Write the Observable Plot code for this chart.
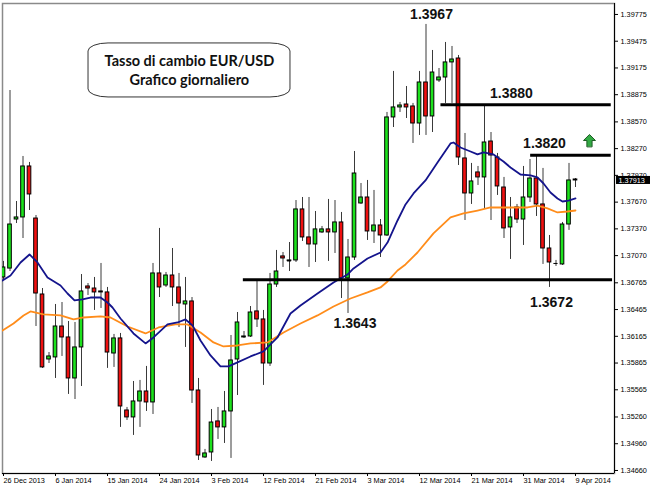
<!DOCTYPE html>
<html><head><meta charset="utf-8">
<script src="https://cdn.jsdelivr.net/npm/d3@7"></script>
<script src="https://cdn.jsdelivr.net/npm/@observablehq/plot@0.6"></script>
<style>html,body{margin:0;padding:0;background:#fff}svg{display:block}</style>
</head><body><div id="chart"></div>
<script>
// Daily EUR/USD candles, 26 Dec 2013 .. 9 Apr 2014 (index = bar number)
const openP = [
1.36825,1.36925,1.37475,1.37498,1.38070,1.37486,1.36634,1.35905,1.35928,1.36275,
1.36152,1.35692,1.36040,1.36724,1.36701,1.36668,1.36657,1.35972,1.36141,1.35333,
1.35255,1.35434,1.35546,1.35423,1.36870,1.36735,1.36847,1.36713,1.36522,1.36556,
1.35557,1.34806,1.34862,1.35210,1.35143,1.35322,1.35905,1.36152,1.36163,1.36444,
1.36354,1.35860,1.36746,1.37061,1.37010,1.37016,1.37588,1.37274,1.37195,1.37330,
1.37364,1.37330,1.37442,1.36814,1.37049,1.37655,1.37722,1.37341,1.37408,1.37296,
1.38620,1.38732,1.38765,1.38743,1.38552,1.39012,1.38631,1.39035,1.39068,1.39237,
1.39281,1.38160,1.37767,1.38003,1.37947,1.38350,1.38171,1.37834,1.37386,1.37610,
1.37475,1.37722,1.37935,1.37644,1.37150,1.36982,1.36971,1.37419,1.37924];
const highP = [
1.37005,1.38922,1.37677,1.38182,1.38115,1.37520,1.36701,1.35983,1.36522,1.36544,
1.36331,1.36320,1.36858,1.36757,1.36825,1.36982,1.36713,1.36186,1.36197,1.35367,
1.35658,1.35670,1.35827,1.36982,1.37375,1.36881,1.37150,1.36870,1.36825,1.36600,
1.35692,1.34896,1.35344,1.35367,1.35546,1.36174,1.36432,1.36219,1.36499,1.36802,
1.36455,1.36870,1.37128,1.37105,1.37217,1.37688,1.37722,1.37722,1.37565,1.37397,
1.37700,1.37688,1.37554,1.37251,1.38238,1.37879,1.37913,1.37801,1.37475,1.38676,
1.39136,1.38788,1.38967,1.38777,1.39136,1.39663,1.39371,1.39169,1.39461,1.39416,
1.39315,1.38440,1.38104,1.38070,1.38765,1.38451,1.38216,1.37947,1.37722,1.37644,
1.38070,1.38148,1.38182,1.38048,1.37296,1.37016,1.37442,1.38104,1.37935];
const lowP = [
1.36802,1.36892,1.37430,1.37262,1.37576,1.36275,1.35805,1.35860,1.35692,1.35939,
1.35513,1.35456,1.35602,1.36623,1.36455,1.36477,1.35805,1.35816,1.35143,1.35221,
1.35053,1.35143,1.35322,1.35288,1.36600,1.36713,1.36499,1.36264,1.36040,1.35412,
1.34772,1.34795,1.34761,1.35008,1.34963,1.34795,1.35501,1.36141,1.36152,1.36264,
1.35614,1.35827,1.36713,1.36937,1.36892,1.36993,1.37229,1.36937,1.36993,1.37319,
1.37005,1.37094,1.36589,1.36421,1.37016,1.37644,1.37240,1.37206,1.37049,1.37285,
1.38507,1.38676,1.38608,1.38328,1.38418,1.38418,1.38451,1.39012,1.38777,1.38777,
1.38081,1.37464,1.37644,1.37857,1.37599,1.37464,1.37745,1.37262,1.37027,1.37430,
1.37184,1.37666,1.37509,1.36971,1.36713,1.36949,1.36960,1.37353,1.37834];
const closeP = [
1.36937,1.37419,1.37498,1.38070,1.37756,1.36645,1.35816,1.35939,1.36275,1.36152,
1.35692,1.36040,1.36668,1.36701,1.36657,1.36657,1.35983,1.36141,1.35378,1.35255,
1.35434,1.35546,1.35423,1.36870,1.36713,1.36847,1.36713,1.36533,1.36556,1.35557,
1.34828,1.34851,1.35198,1.35143,1.35322,1.35894,1.36320,1.36163,1.36432,1.36354,
1.35860,1.36746,1.36892,1.37038,1.37016,1.37588,1.37274,1.37195,1.37364,1.37364,
1.37330,1.37442,1.36814,1.37049,1.37991,1.37722,1.37341,1.37408,1.37296,1.38620,
1.38732,1.38754,1.38732,1.38552,1.39012,1.38631,1.39124,1.39068,1.39237,1.39270,
1.38171,1.37767,1.37902,1.37947,1.38339,1.38193,1.37846,1.37375,1.37498,1.37475,
1.37722,1.37935,1.37644,1.37150,1.36993,1.36982,1.37419,1.37913,1.37913];

// Date axis labels (every 8 bars)
const dateTickIdx = [0,8,16,24,32,40,48,56,64,72,80,88];
const dateLabels = ["26 Dec 2013","6 Jan 2014","15 Jan 2014","24 Jan 2014","3 Feb 2014","12 Feb 2014",
  "21 Feb 2014","3 Mar 2014","12 Mar 2014","21 Mar 2014","31 Mar 2014","9 Apr 2014"];

// Price axis tick labels
const yTicks = [1.39775,1.39475,1.39175,1.38875,1.38570,1.38270,1.37970,1.37670,1.37370,
  1.37070,1.36765,1.36465,1.36165,1.35865,1.35565,1.35260,1.34960,1.34660];

// Moving averages (bar position, value)
const blueIdx = [-0.15,1.08,2.62,4.0,5.23,6.77,8.77,9.85,10.92,12.15,13.38,14.92,16.0,16.77,18.0,20.0,21.85,23.08,
  25.23,26.77,28.0,29.08,30.31,31.85,33.38,34.62,36.0,38.0,40.0,42.15,44.15,45.69,48.31,50.77,52.92,53.85,56.0,
  58.0,59.08,60.62,61.85,63.08,64.92,66.77,68.77,69.23,70.31,71.85,72.92,73.85,75.38,76.92,78.0,79.54,81.08,
  82.15,83.08,84.15,85.23,86.0,86.92,88.0];
const blueVal = [1.36791,1.36847,1.36993,1.37083,1.36993,1.36825,1.36735,1.36645,1.36567,1.36578,1.36600,1.36600,
  1.36544,1.36488,1.36365,1.36197,1.36085,1.36152,1.36298,1.36320,1.36354,1.36287,1.36118,1.35950,1.35827,
  1.35827,1.35872,1.35939,1.35995,1.36152,1.36421,1.36511,1.36645,1.36769,1.36858,1.36926,1.37038,1.37105,
  1.37217,1.37464,1.37644,1.37767,1.37913,1.38115,1.38328,1.38339,1.38283,1.38238,1.38205,1.38227,1.38205,
  1.38126,1.38059,1.37980,1.37969,1.37947,1.37879,1.37778,1.37711,1.37677,1.37688,1.37711];
const orangeIdx = [-0.15,1.54,3.08,4.15,6.15,8.77,10.77,12.31,14.92,16.46,19.08,21.85,23.85,26.46,28.31,30.31,
  32.31,33.85,36.0,38.0,40.62,43.08,45.69,48.31,50.77,53.38,56.0,58.0,59.08,60.62,61.85,63.69,66.15,68.77,
  70.77,72.92,74.92,77.23,80.62,82.15,83.69,85.23,86.77,88.0];
const orangeVal = [1.36230,1.36309,1.36399,1.36444,1.36410,1.36399,1.36354,1.36376,1.36388,1.36376,1.36275,
  1.36197,1.36264,1.36298,1.36298,1.36208,1.36096,1.36051,1.36062,1.36085,1.36096,1.36208,1.36309,1.36399,
  1.36499,1.36589,1.36657,1.36713,1.36780,1.36903,1.36971,1.37105,1.37319,1.37498,1.37543,1.37576,1.37610,
  1.37610,1.37610,1.37632,1.37599,1.37554,1.37565,1.37576];

// Horizontal support/resistance lines
const levelVal = [1.36799, 1.38762, 1.38197];
const levelStart = [36.9, 67.3, 81.1];
const levelEnd = [93.7, 93.5, 93.5];

// Value annotations
const annText = ["1.3967","1.3880","1.3820","1.3643","1.3672"];
const annIdx = [65.85, 78.15, 83.23, 54.08, 84.31];
const annVal = [1.39775, 1.38892, 1.38331, 1.36309, 1.36548];

// Title box
const titleLines = ["Tasso di cambio EUR/USD", "Grafico giornaliero"];
const titleIdx = 28.6;
const titleVal = [1.39248, 1.39035];
const boxIdx = [13.08, 44.15];
const boxVal = [1.38844, 1.39450];

// Up arrow
const arrowIdx = 90.15, arrowVal = 1.38294;

const lastPrice = 1.37913;

const xDomain = [-0.154, 94.0];
const yDomain = [1.34626, 1.39898];

const candles = openP.map((o, i) => ({i, open: o, high: highP[i], low: lowP[i], close: closeP[i],
  color: closeP[i] >= o ? "#1de21d" : "#f01010"}));
const dojis = candles.filter(d => Math.abs(d.open - d.close) < 0.00008);
const blue = blueIdx.map((x, k) => ({x, v: blueVal[k]}));
const orange = orangeIdx.map((x, k) => ({x, v: orangeVal[k]}));
const levels = levelVal.map((v, k) => ({v, s: levelStart[k], e: levelEnd[k]}));
const anns = annText.map((t, k) => ({t, x: annIdx[k], v: annVal[k]}));
const labelByIdx = new Map(dateTickIdx.map((d, k) => [d, dateLabels[k]]));

const arrowShape = {
  draw(ctx, l) {
    const hw = 6, hh = l * 0.5, sw = 2.6;
    ctx.moveTo(-sw, 0); ctx.lineTo(-sw, -l + hh); ctx.lineTo(-hw, -l + hh); ctx.lineTo(0, -l);
    ctx.lineTo(hw, -l + hh); ctx.lineTo(sw, -l + hh); ctx.lineTo(sw, 0); ctx.closePath();
  }
};

const axisFont = 7.3;
const chart = Plot.plot({
  width: 650, height: 488,
  marginLeft: 2, marginRight: 36, marginTop: 3, marginBottom: 15,
  style: {fontFamily: "Liberation Sans", background: "#fff", overflow: "visible"},
  x: {domain: xDomain, axis: null},
  y: {domain: yDomain, axis: null},
  marks: [
    Plot.frame({stroke: "#8a8a8a", strokeWidth: 1.5}),
    Plot.ruleX(candles, {x: "i", y1: "low", y2: "high", stroke: "#3a3a3a", strokeWidth: 1, clip: true}),
    Plot.rect(candles, {x1: d => d.i - 0.28, x2: d => d.i + 0.28, y1: "open", y2: "close",
      fill: "color", stroke: "#000", strokeWidth: 1, clip: true}),
    Plot.ruleY(dojis, {y: "open", x1: d => d.i - 0.32, x2: d => d.i + 0.32, stroke: "#000", strokeWidth: 1, clip: true}),
    Plot.line(orange, {x: "x", y: "v", stroke: "#ff8c1a", strokeWidth: 1.8, clip: true}),
    Plot.line(blue, {x: "x", y: "v", stroke: "#14148c", strokeWidth: 1.8, clip: true}),
    Plot.ruleY(levels, {y: "v", x1: "s", x2: "e", stroke: "#000", strokeWidth: 3}),
    Plot.text(anns, {x: "x", y: "v", text: "t", fontSize: 14, fontWeight: "bold", fill: "#111"}),
    Plot.rect([0], {x1: boxIdx[0], x2: boxIdx[1], y1: boxVal[0], y2: boxVal[1], rx: 20, ry: 8,
      fill: "none", stroke: "#333", strokeWidth: 1}),
    Plot.text(titleLines, {x: titleIdx, y: (d, k) => titleVal[k], text: d => d,
      fontFamily: "Lato", fontWeight: "bold", fontSize: 14.5, fill: "#111"}),
    Plot.vector([0], {x: arrowIdx, y: arrowVal, length: 12, rotate: 0, anchor: "start",
      shape: arrowShape, fill: "#33aa44", stroke: "#1d5c24", strokeWidth: 1}),
    Plot.ruleX([xDomain[1]], {stroke: "#000", strokeWidth: 1}),
    Plot.ruleY([yDomain[0]], {stroke: "#000", strokeWidth: 1}),
    Plot.axisY(yTicks, {anchor: "right", tickSize: 3, tickPadding: 3, fontSize: axisFont,
      tickFormat: d => d.toFixed(5), stroke: "#000", fill: "#000"}),
    Plot.axisX(dateTickIdx, {anchor: "bottom", tickSize: 3, tickPadding: 1.5, fontSize: axisFont,
      textAnchor: "start", tickFormat: d => labelByIdx.get(d), stroke: "#000", fill: "#000"}),
    Plot.rect([lastPrice], {x1: xDomain[1] + 0.31, x2: xDomain[1] + 5.6,
      y1: d => d + 0.00045, y2: d => d - 0.00045, fill: "#000"}),
    Plot.text([lastPrice], {x: xDomain[1], y: d => d, dx: 4, text: d => d.toFixed(5),
      textAnchor: "start", fill: "#fff", fontSize: axisFont})
  ]
});
document.getElementById("chart").appendChild(chart);
</script>
</body></html>
